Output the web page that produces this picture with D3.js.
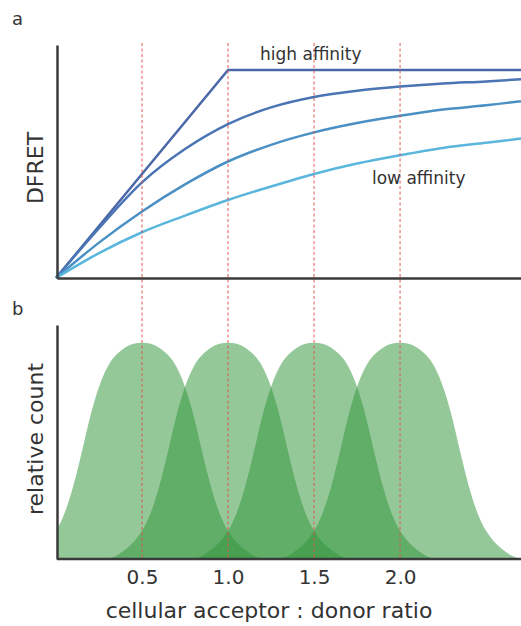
<!DOCTYPE html>
<html>
<head>
<meta charset="utf-8">
<script src="https://cdn.jsdelivr.net/npm/d3@7"></script>
<style>
  body { margin: 0; background: #fff; }
  text { font-family: "DejaVu Sans", sans-serif; fill: #333; }
</style>
</head>
<body>
<script>
// panel a: DFRET vs acceptor:donor ratio
var ratios = [0, 0.25, 0.5, 0.75, 1.0, 1.25, 1.5, 1.75, 2.0, 2.25, 2.5, 2.703];
var highAffinity = [0, 0.25, 0.5, 0.75, 1.0, 1.0, 1.0, 1.0, 1.0, 1.0, 1.0, 1.0];
var midHigh = [0, 0.24, 0.46, 0.62, 0.74, 0.82, 0.87, 0.90, 0.92, 0.935, 0.945, 0.955];
var midLow = [0, 0.17, 0.32, 0.45, 0.56, 0.64, 0.70, 0.745, 0.78, 0.81, 0.83, 0.85];
var lowAffinity = [0, 0.12, 0.22, 0.30, 0.375, 0.44, 0.50, 0.55, 0.59, 0.625, 0.65, 0.67];
var curveColors = ["#4a68a8", "#4a74b4", "#4b90c4", "#5ab6dc"];

// panel b: distributions of acceptor:donor ratio
var centers = [0.5, 1.0, 1.5, 2.0];
var profileOffsets = [-0.7, -0.65, -0.6, -0.55, -0.5, -0.45, -0.4, -0.35, -0.3, -0.25, -0.2, -0.15, -0.1, -0.05,
    0, 0.05, 0.1, 0.15, 0.2, 0.25, 0.3, 0.35, 0.4, 0.45, 0.5, 0.55, 0.6, 0.65, 0.7];
var profileCounts = [0, 0.013, 0.04, 0.075, 0.125, 0.205, 0.33, 0.49, 0.67, 0.8, 0.895, 0.945, 0.978, 0.995,
    1.0, 0.995, 0.978, 0.945, 0.895, 0.8, 0.67, 0.49, 0.33, 0.205, 0.125, 0.075, 0.04, 0.013, 0];
var tickValues = [0.5, 1.0, 1.5, 2.0];

var w = 521;
var h = 626;

var svg = d3.select("body")
    .append("svg")
    .attr("width", w)
    .attr("height", h);

var x = d3.scaleLinear().domain([0, 2.703]).range([56, 521]);
var yA = d3.scaleLinear().domain([0, 1.12]).range([278, 45]);
var yB = d3.scaleLinear().domain([0, 1.08]).range([559, 325]);

svg.append("clipPath")
    .attr("id", "clipB")
    .append("rect")
    .attr("x", 57).attr("y", 300)
    .attr("width", 464).attr("height", 260);

// green distributions
var area = d3.area()
    .x(function (d) { return x(d[0]); })
    .y0(yB(0))
    .y1(function (d) { return yB(d[1]); })
    .curve(d3.curveBasis);

svg.append("g")
    .attr("clip-path", "url(#clipB)")
    .selectAll("path")
    .data(centers)
    .enter()
    .append("path")
    .attr("d", function (c) {
        return area(profileOffsets.map(function (o, i) { return [c + o, profileCounts[i]]; }));
    })
    .attr("fill", "#32963c")
    .attr("fill-opacity", 0.52);

// curves in panel a
var series = [highAffinity, midHigh, midLow, lowAffinity];
var line = d3.line()
    .x(function (d, i) { return x(ratios[i]); })
    .y(function (d) { return yA(d); });

svg.selectAll(".curve")
    .data(series)
    .enter()
    .append("path")
    .attr("class", "curve")
    .attr("d", function (d, i) {
        return line.curve(i === 0 ? d3.curveLinear : d3.curveMonotoneX)(d);
    })
    .attr("fill", "none")
    .attr("stroke", function (d, i) { return curveColors[i]; })
    .attr("stroke-width", 2.5);

// red dashed guides through both panels
svg.selectAll(".guide")
    .data(tickValues)
    .enter()
    .append("line")
    .attr("class", "guide")
    .attr("x1", function (d) { return x(d); })
    .attr("x2", function (d) { return x(d); })
    .attr("y1", 43)
    .attr("y2", 558)
    .attr("stroke", "#e0544e")
    .attr("stroke-opacity", 0.8)
    .attr("stroke-width", 1.2)
    .attr("stroke-dasharray", "3,2.5");

// axes
function styleAxis(g) {
    g.select(".domain").attr("stroke", "#3a3a3a").attr("stroke-width", 2.5);
}

svg.append("g")
    .attr("transform", "translate(57,0)")
    .call(d3.axisLeft(yA).tickValues([]).tickSizeOuter(0))
    .call(styleAxis);
svg.append("g")
    .attr("transform", "translate(0," + yA(0) + ")")
    .call(d3.axisBottom(x.copy().range([57, 521])).tickValues([]).tickSizeOuter(0))
    .call(styleAxis);

svg.append("g")
    .attr("transform", "translate(57,0)")
    .call(d3.axisLeft(yB).tickValues([]).tickSizeOuter(0))
    .call(styleAxis);
var xAxisB = svg.append("g")
    .attr("transform", "translate(0," + yB(0) + ")")
    .call(d3.axisBottom(x).tickValues(tickValues).tickFormat(d3.format(".1f"))
        .tickSize(0).tickSizeOuter(0).tickPadding(11))
    .call(styleAxis);
xAxisB.selectAll("text")
    .attr("font-family", "DejaVu Sans, sans-serif")
    .attr("font-size", "20px")
    .attr("fill", "#333");
xAxisB.select(".domain").attr("d", "M57,0H521");

// texts
svg.append("text").text("a").attr("x", 12).attr("y", 25).attr("font-size", "18px");
svg.append("text").text("b").attr("x", 12).attr("y", 315).attr("font-size", "18px");

svg.append("text").text("high affinity").attr("x", 260).attr("y", 60).attr("font-size", "17px");
svg.append("text").text("low affinity").attr("x", 372).attr("y", 184).attr("font-size", "17px");

svg.append("text").text("DFRET")
    .attr("transform", "translate(43,168) rotate(-90)")
    .attr("text-anchor", "middle")
    .attr("font-size", "22px");

svg.append("text").text("relative count")
    .attr("transform", "translate(43,439) rotate(-90)")
    .attr("text-anchor", "middle")
    .attr("font-size", "22px");

svg.append("text").text("cellular acceptor : donor ratio")
    .attr("x", 269)
    .attr("y", 618)
    .attr("text-anchor", "middle")
    .attr("font-size", "22px");
</script>
</body>
</html>
